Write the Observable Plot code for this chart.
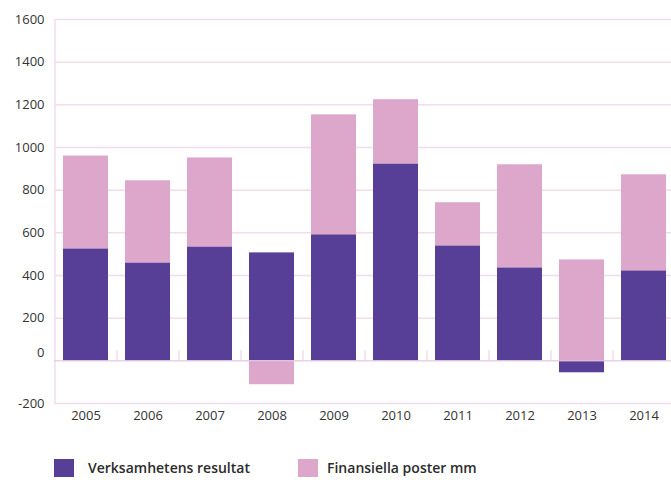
<!DOCTYPE html>
<html>
<head>
<meta charset="utf-8">
<script src="https://cdn.jsdelivr.net/npm/d3@7"></script>
<script src="https://cdn.jsdelivr.net/npm/@observablehq/plot@0.6"></script>
<style>
  body { margin: 0; background: #fff; font-family: "Open Sans", sans-serif; }
  #wrap { position: relative; width: 671px; height: 480px; }
  .legend { position: absolute; top: 459px; left: 0; width: 671px; height: 20px; }
  .sw { position: absolute; width: 20px; height: 18px; }
  .lt { position: absolute; top: -2px; font-size: 14px; font-weight: 600; color: #2b2b2b; white-space: nowrap; line-height: 22px; }
</style>
</head>
<body>
<div id="wrap"></div>
<script>
const years = ["2005","2006","2007","2008","2009","2010","2011","2012","2013","2014"];
const verksamhet = [525, 459, 534, 506, 591, 923, 539, 436, -56, 422];
const finansiella = [435, 385, 417, -112, 562, 301, 202, 483, 473, 450];
const seriesNames = ["Verksamhetens resultat", "Finansiella poster mm"];
const seriesColors = ["#573f98", "#dda6cb"];
const yTicks = [-200, 0, 200, 400, 600, 800, 1000, 1200, 1400, 1600];

const data = [
  ...years.map((y, i) => ({year: y, series: seriesNames[0], value: verksamhet[i]})),
  ...years.map((y, i) => ({year: y, series: seriesNames[1], value: finansiella[i]}))
];

const chart = Plot.plot({
  width: 671,
  height: 430,
  marginTop: 19,
  marginBottom: 27,
  marginLeft: 54,
  marginRight: 0,
  style: {fontFamily: "'Open Sans', sans-serif", fontSize: "13px", color: "#333"},
  x: {domain: years, range: [54.5, 675.5], paddingInner: 0.274, paddingOuter: 0.137, align: 0.5, label: null},
  y: {domain: [-200, 1600], label: null},
  color: {domain: seriesNames, range: seriesColors},
  marks: [
    Plot.ruleY(yTicks.filter(t => t !== 0), {stroke: "#f3dcec", strokeWidth: 1.5}),
    Plot.ruleX([years[0]], {x: d => d, dx: -31, y1: -200, y2: 1600, stroke: "#f3dcec", strokeWidth: 1.5}),
    Plot.ruleX(years.slice(1), {x: d => d, dx: -31, y1: 0, y2: 47, stroke: "#f0d2e6", strokeWidth: 1.2}),
    Plot.barY(data, Plot.stackY({x: "year", y: "value", fill: "series", order: seriesNames})),
    Plot.ruleY([0], {stroke: "#e6c3de", strokeWidth: 1.5, strokeOpacity: 0.8}),
    Plot.axisY(yTicks.filter(t => t !== 0), {tickSize: 0, tickPadding: 10, label: null, fontSize: 13, tickFormat: d => String(d)}),
    Plot.text([0], {y: d => d, text: d => String(d), frameAnchor: "left", dx: -10, dy: -8, textAnchor: "end", fontSize: 13, fill: "#333"}),
    Plot.axisX({tickSize: 0, tickPadding: 7, label: null, fontSize: 13})
  ]
});

const wrap = document.getElementById("wrap");
wrap.appendChild(chart);

const legend = document.createElement("div");
legend.className = "legend";
const pos = [[54, 88], [298, 327]];
seriesNames.forEach((name, i) => {
  const sw = document.createElement("div");
  sw.className = "sw";
  sw.style.left = pos[i][0] + "px";
  sw.style.background = seriesColors[i];
  const t = document.createElement("div");
  t.className = "lt";
  t.style.left = pos[i][1] + "px";
  t.textContent = name;
  legend.appendChild(sw);
  legend.appendChild(t);
});
wrap.appendChild(legend);
</script>
</body>
</html>
